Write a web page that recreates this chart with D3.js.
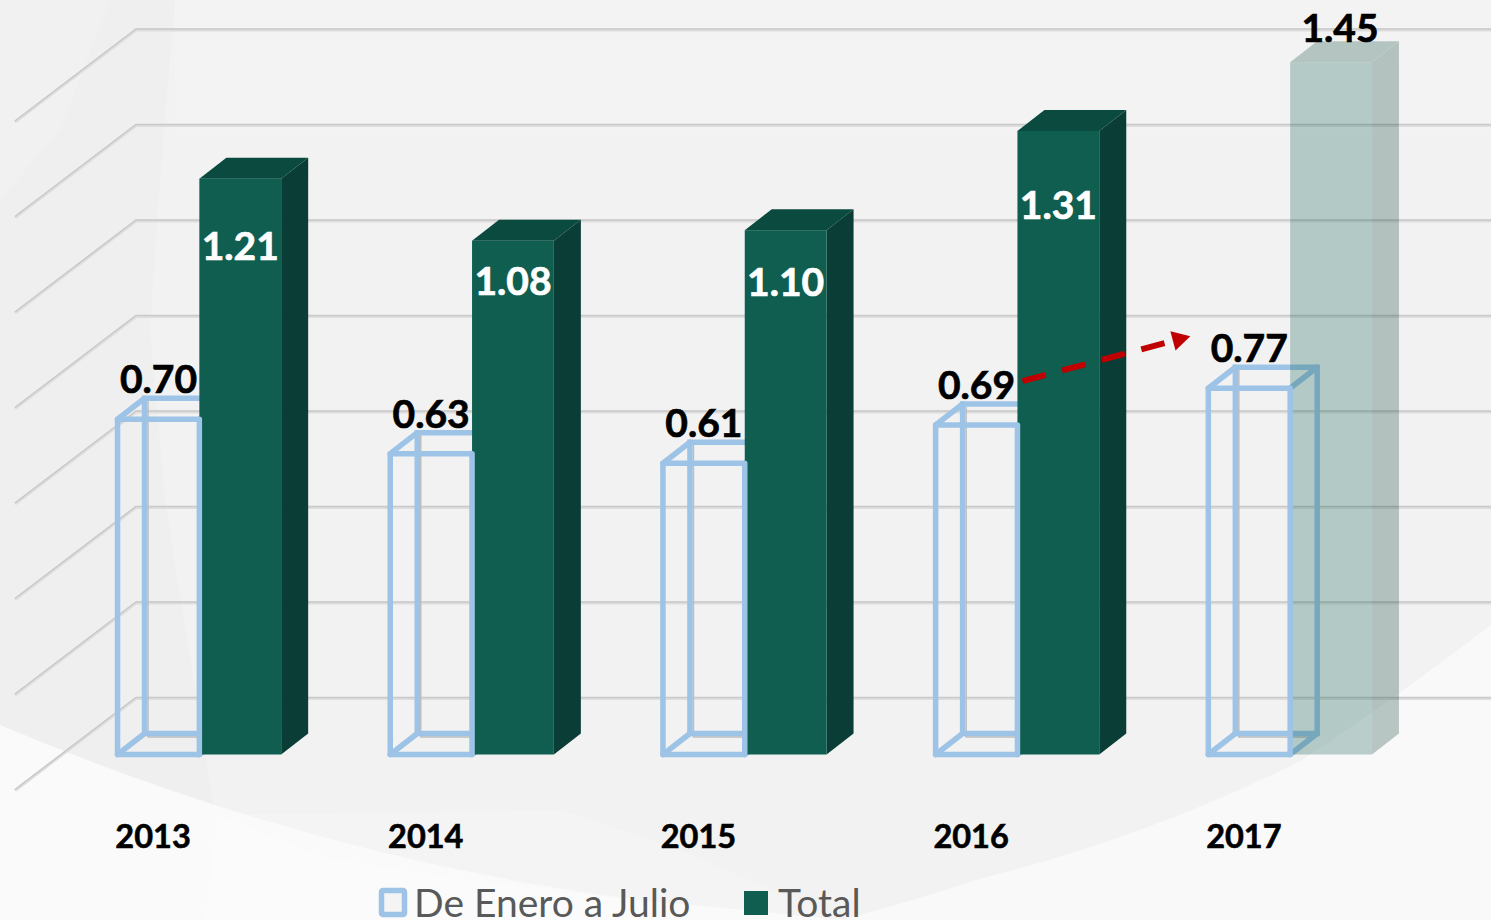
<!DOCTYPE html>
<html>
<head>
<meta charset="utf-8">
<script src="https://cdn.jsdelivr.net/npm/d3@7"></script>
<style>
    html, body { margin: 0; padding: 0; background: #fff; overflow: hidden; }
    text { font-family: Lato, "Open Sans", sans-serif; }
</style>
</head>
<body>
<div id="chart"></div>
<script>
const years = ['2013', '2014', '2015', '2016', '2017'];
const enero = [0.702, 0.63, 0.61, 0.69, 0.767];
const total = [1.206, 1.076, 1.098, 1.306, 1.45];
const seriesNames = ['De Enero a Julio', 'Total'];

// hand placed label offsets, value labels do not sit at a fixed spot in the bars
const totalLabelDy = [81, 54, 66, 88, -20];
const totalLabelDx = [0, 0, 0, 0, 9];

const width = 1491;
const height = 920;

// fake 3d: how far the back of a bar sits from its front
const depthX = 27;
const depthY = -21;
// back wall of the chart, relative to the bar fronts
const wallY = -57;
const wallX = 136;
const wallDepthX = 121;
const wallDepthY = 92;

const svg = d3.select('#chart')
    .append('svg')
    .attr('width', width)
    .attr('height', height);

const x = d3.scaleBand()
    .domain(years)
    .range([63, 1426.5])
    .paddingInner(0.4)
    .paddingOuter(0.2);

const xSeries = d3.scaleBand()
    .domain(seriesNames)
    .range([0, x.bandwidth()]);

const y = d3.scaleLinear()
    .domain([0, 1.6])
    .range([754.5, 754.5 - 477.5 * 1.6]);

// Background swooshes
const bg = svg.append('g');
bg.append('rect').attr('width', width).attr('height', height).attr('fill', '#f2f2f2');
bg.append('path').attr('d', 'M175,0 L1491,0 L1491,130 L175,130 Z').attr('fill', '#f4f4f4').attr('opacity', 0.7);
bg.append('path').attr('d', 'M0,0 L175,0 L160,180 L150,330 L165,500 L215,815 L0,725 Z').attr('fill', '#efefef');
bg.append('path').attr('d', 'M0,0 L110,0 L60,130 L0,200 Z').attr('fill', '#f1f1f1');
bg.append('path')
    .attr('d', 'M560,810 L679,850 L797,900 L845,920 L640,920 L640,900 L320,857 L215,815 Z')
    .attr('fill', '#f4f4f4');
bg.append('path')
    .attr('d', 'M0,725 Q320,860 640,900 L845,920 L0,920 Z')
    .attr('fill', '#fafafa');
bg.append('path')
    .attr('d', 'M205,920 L218,815 L320,857 Q480,885 640,900 L660,920 Z')
    .attr('fill', '#fbfbfb');
bg.append('path')
    .attr('d', 'M1491,625 Q1400,695 1302,760 Q1154,835 976,880 Q900,905 840,920 L1491,920 Z')
    .attr('fill', '#f9f9f9');

// Gridlines, back wall + left wall
const grid = svg.append('g')
    .selectAll('g')
    .data(y.ticks(8).filter(d => d <= 1.4))
    .join('g');

grid.append('path')
    .attr('d', d => `M${width},${y(d) + wallY + 1}H${wallX}l${-wallDepthX},${wallDepthY}`)
    .attr('fill', 'none')
    .attr('stroke', '#dedede')
    .attr('stroke-width', 3);

grid.append('path')
    .attr('d', d => `M${width},${y(d) + wallY}H${wallX}l${-wallDepthX},${wallDepthY}`)
    .attr('fill', 'none')
    .attr('stroke', '#c9c9c9')
    .attr('stroke-width', 1.5);

function frontPoints(x0, w, v) {
    return { left: x0, right: x0 + w, top: y(v), bottom: y(0) };
}

function drawBoxBack(g, b) {
    const line = (d, color, sw) => g.append('path')
        .attr('d', d)
        .attr('fill', 'none')
        .attr('stroke', color)
        .attr('stroke-width', sw)
        .attr('stroke-linecap', 'round');

    // thin grey shadow on the inner side of the back edges
    line(`M${b.left + depthX + 3.5},${b.top + depthY + 3}V${b.bottom + depthY + 3.5}H${b.right + depthX - 3}`, '#bdbdbd', 1.5);

    const back = `M${b.left + depthX},${b.bottom + depthY}V${b.top + depthY}H${b.right + depthX}V${b.bottom + depthY}H${b.left + depthX}`;
    const sides = `M${b.left},${b.top}l${depthX},${depthY}M${b.left},${b.bottom}l${depthX},${depthY}` +
        `M${b.right},${b.top}l${depthX},${depthY}M${b.right},${b.bottom}l${depthX},${depthY}`;
    line(back, '#9dc3e6', 5.5);
    line(sides, '#9dc3e6', 5.5);
}

function drawBoxFront(g, b) {
    g.append('rect')
        .attr('x', b.left)
        .attr('y', b.top)
        .attr('width', b.right - b.left)
        .attr('height', b.bottom - b.top)
        .attr('fill', 'none')
        .attr('stroke', '#9dc3e6')
        .attr('stroke-width', 5.5)
        .attr('stroke-linejoin', 'round');
}

function drawSolid(g, b, opacity) {
    const solid = g.append('g').attr('opacity', opacity);
    solid.append('polygon')
        .attr('points', [[b.right, b.top], [b.right + depthX, b.top + depthY], [b.right + depthX, b.bottom + depthY], [b.right, b.bottom]].join(' '))
        .attr('fill', '#0a3d35');
    solid.append('polygon')
        .attr('points', [[b.left, b.top], [b.left + depthX, b.top + depthY], [b.right + depthX, b.top + depthY], [b.right, b.top]].join(' '))
        .attr('fill', '#0b4a3e');
    solid.append('rect')
        .attr('x', b.left)
        .attr('y', b.top)
        .attr('width', b.right - b.left)
        .attr('height', b.bottom - b.top)
        .attr('fill', '#0f5e4f');
}

const bars = svg.append('g');

years.forEach((year, i) => {
    const g = bars.append('g');
    const w = xSeries.bandwidth();
    const boxB = frontPoints(x(year) + xSeries(seriesNames[0]), w, enero[i]);
    const totalB = frontPoints(x(year) + xSeries(seriesNames[1]), w, total[i]);

    drawBoxBack(g, boxB);
    // 2017 is not closed yet, so the total is faded out
    drawSolid(g, totalB, year === '2017' ? 0.27 : 1);
    drawBoxFront(g, boxB);
});

// Value labels
svg.append('g')
    .selectAll('text')
    .data(enero)
    .join('text')
    .attr('x', (d, i) => x(years[i]) + xSeries(seriesNames[0]) + xSeries.bandwidth() / 2)
    .attr('y', d => y(d) - 26)
    .attr('text-anchor', 'middle')
    .attr('font-size', 39)
    .attr('font-weight', 700)
    .attr('fill', '#000')
    .attr('stroke', '#000')
    .attr('stroke-width', 0.7)
    .text(d => d.toFixed(2));

svg.append('g')
    .selectAll('text')
    .data(total)
    .join('text')
    .attr('x', (d, i) => x(years[i]) + xSeries(seriesNames[1]) + xSeries.bandwidth() / 2 + totalLabelDx[i])
    .attr('y', (d, i) => y(d) + totalLabelDy[i])
    .attr('text-anchor', 'middle')
    .attr('font-size', 39)
    .attr('font-weight', 700)
    .attr('fill', (d, i) => years[i] === '2017' ? '#000' : '#fff')
    .attr('stroke', (d, i) => years[i] === '2017' ? '#000' : '#fff')
    .attr('stroke-width', 0.7)
    .text(d => d.toFixed(2));

// Year labels
svg.append('g')
    .selectAll('text')
    .data(years)
    .join('text')
    .attr('x', d => x(d) + 35.5)
    .attr('y', y(0) + 93.5)
    .attr('text-anchor', 'middle')
    .attr('font-size', 32.5)
    .attr('font-weight', 700)
    .attr('fill', '#000')
    .attr('stroke', '#000')
    .attr('stroke-width', 0.6)
    .text(d => d);

// Dashed trend arrow, from the 2016 label over to the 2017 label
const arrowFrom = [x('2016') + x.bandwidth() / 2 + 5, y(enero[3]) - 44];
const arrowTo = [x('2017') - 18, y(enero[4]) - 52];
const angle = Math.atan2(arrowTo[1] - arrowFrom[1], arrowTo[0] - arrowFrom[0]);
const headLen = 18;

svg.append('line')
    .attr('x1', arrowFrom[0])
    .attr('y1', arrowFrom[1])
    .attr('x2', arrowTo[0] - Math.cos(angle) * headLen)
    .attr('y2', arrowTo[1] - Math.sin(angle) * headLen)
    .attr('stroke', '#c00000')
    .attr('stroke-width', 6)
    .attr('stroke-dasharray', '24 17');

svg.append('polygon')
    .attr('points', [[0, 0], [-headLen, -10], [-headLen, 10]].join(' '))
    .attr('transform', `translate(${arrowTo}) rotate(${angle * 180 / Math.PI})`)
    .attr('fill', '#c00000');

// Legend
const legend = svg.append('g');

legend.append('rect')
    .attr('x', 381.5)
    .attr('y', 890.5)
    .attr('width', 23)
    .attr('height', 24)
    .attr('rx', 1.5)
    .attr('fill', '#f4f4f4')
    .attr('stroke', '#9dc3e6')
    .attr('stroke-width', 5.5);

legend.append('text')
    .attr('x', 414)
    .attr('y', 917)
    .attr('font-size', 39)
    .attr('fill', '#595959')
    .text(seriesNames[0]);

legend.append('rect')
    .attr('x', 744)
    .attr('y', 891)
    .attr('width', 24)
    .attr('height', 24)
    .attr('fill', '#0f5e4f');

legend.append('text')
    .attr('x', 778)
    .attr('y', 917)
    .attr('font-size', 39)
    .attr('fill', '#595959')
    .text(seriesNames[1]);
</script>
</body>
</html>
